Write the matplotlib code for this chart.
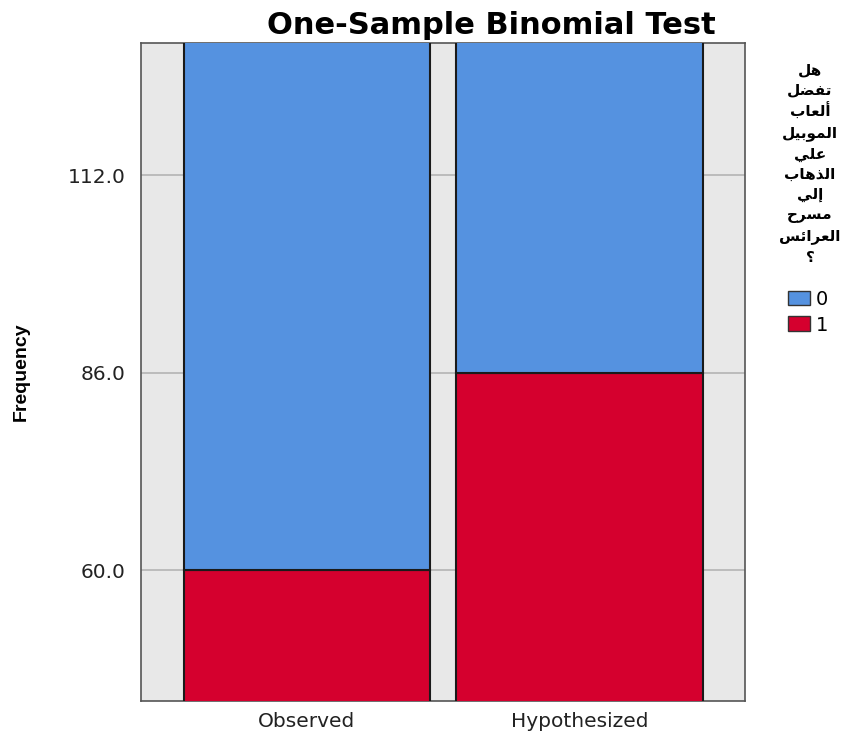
import numpy as np
import matplotlib
matplotlib.use('Agg')
import matplotlib.pyplot as plt
from matplotlib.patches import Patch
from matplotlib import font_manager

# data
groups = ['Observed', 'Hypothesized']
count_1 = [60, 86]
count_0 = [112, 86]
legend_labels = ['0', '1']
yticks = [60.0, 86.0, 112.0]
legend_title_lines = ['هل', 'تفضل', 'ألعاب', 'الموبيل', 'علي', 'الذهاب', 'إلي', 'مسرح', 'العرائس', '؟']

blue = '#5592e0'
red = '#d5002e'

# tiny arabic shaper (matplotlib 3.10 does no shaping / bidi)
# letter: (isolated, final, initial, medial) ; None = does not join forward
forms = {
    'ا': (0xFE8D, 0xFE8E, None, None),
    'أ': (0xFE83, 0xFE84, None, None),
    'إ': (0xFE87, 0xFE88, None, None),
    'ب': (0xFE8F, 0xFE90, 0xFE91, 0xFE92),
    'ت': (0xFE95, 0xFE96, 0xFE97, 0xFE98),
    'ح': (0xFEA1, 0xFEA2, 0xFEA3, 0xFEA4),
    'ذ': (0xFEAB, 0xFEAC, None, None),
    'ر': (0xFEAD, 0xFEAE, None, None),
    'س': (0xFEB1, 0xFEB2, 0xFEB3, 0xFEB4),
    'ض': (0xFEBD, 0xFEBE, 0xFEBF, 0xFEC0),
    'ع': (0xFEC9, 0xFECA, 0xFECB, 0xFECC),
    'ف': (0xFED1, 0xFED2, 0xFED3, 0xFED4),
    'ل': (0xFEDD, 0xFEDE, 0xFEDF, 0xFEE0),
    'م': (0xFEE1, 0xFEE2, 0xFEE3, 0xFEE4),
    'ه': (0xFEE9, 0xFEEA, 0xFEEB, 0xFEEC),
    'و': (0xFEED, 0xFEEE, None, None),
    'ي': (0xFEF1, 0xFEF2, 0xFEF3, 0xFEF4),
    'ئ': (0xFE89, 0xFE8A, 0xFE8B, 0xFE8C),
}


def shape(word):
    out = []
    n = len(word)
    for i, c in enumerate(word):
        if c not in forms:
            out.append(c)
            continue
        f = forms[c]
        prev = word[i - 1] if i > 0 else None
        nxt = word[i + 1] if i < n - 1 else None
        join_prev = prev in forms and forms[prev][2] is not None
        join_next = nxt in forms and f[2] is not None
        if join_prev and join_next:
            out.append(chr(f[3]))
        elif join_prev:
            out.append(chr(f[1]))
        elif join_next:
            out.append(chr(f[2]))
        else:
            out.append(chr(f[0]))
    return ''.join(reversed(out))


plt.rcParams['font.family'] = ['DejaVu Sans']

installed = set(f.name for f in font_manager.fontManager.ttflist)
narrow = 'Liberation Sans Narrow' if 'Liberation Sans Narrow' in installed else 'Liberation Sans'

fig = plt.figure(figsize=(8.55, 7.36), dpi=100)
ax = fig.add_axes([141 / 855, 1 - 701 / 736, (745 - 141) / 855, (701 - 43) / 736])
ax.set_facecolor('#e8e8e8')

x = np.arange(len(groups))
ax.bar(x, count_1, width=0.903, color=red, edgecolor='#1a1a1a', linewidth=1.5, zorder=3)
ax.bar(x, count_0, width=0.903, bottom=count_1, color=blue, edgecolor='#1a1a1a', linewidth=1.5, zorder=3)

ax.set_xlim(-0.609, 1.607)
ax.set_ylim(42.75, 129.4)
ax.set_yticks(yticks)
ax.set_yticklabels(['%.1f' % v for v in yticks], fontsize=14.5, color='#222222')
ax.set_xticks(x)
ax.set_xticklabels(groups, fontsize=14.5, color='#222222')
ax.tick_params(axis='y', length=0, pad=11)
ax.tick_params(axis='x', length=0, pad=8)
ax.yaxis.grid(True, color='#b4b4b4', linewidth=1.2, zorder=1)
ax.set_axisbelow(True)
for s in ax.spines.values():
    s.set_color('#555555')
    s.set_linewidth(1.2)

fig.text(21 / 855, 1 - 372 / 736, 'Frequency', rotation=90, ha='center', va='center',
         fontsize=14, fontweight='bold', family=[narrow, 'DejaVu Sans'])

fig.text(491 / 855, 1 - 25 / 736, 'One-Sample Binomial Test', ha='center', va='center',
         fontsize=22, fontweight='bold')

title = '\n'.join(shape(w) for w in legend_title_lines)
fig.text(810 / 855, 1 - 62 / 736, title, ha='center', va='top', fontsize=11,
         fontweight='bold', family=['DejaVu Sans'], linespacing=1.43)

handles = [Patch(facecolor=blue, edgecolor='#333333'), Patch(facecolor=red, edgecolor='#333333')]
fig.legend(handles, legend_labels, loc='upper left', bbox_to_anchor=(778 / 855, 1 - 280 / 736),
           frameon=False, fontsize=14, handlelength=1.15, handleheight=0.8,
           handletextpad=0.3, labelspacing=0.35, borderpad=0)

fig.savefig('out.png', dpi=100)
